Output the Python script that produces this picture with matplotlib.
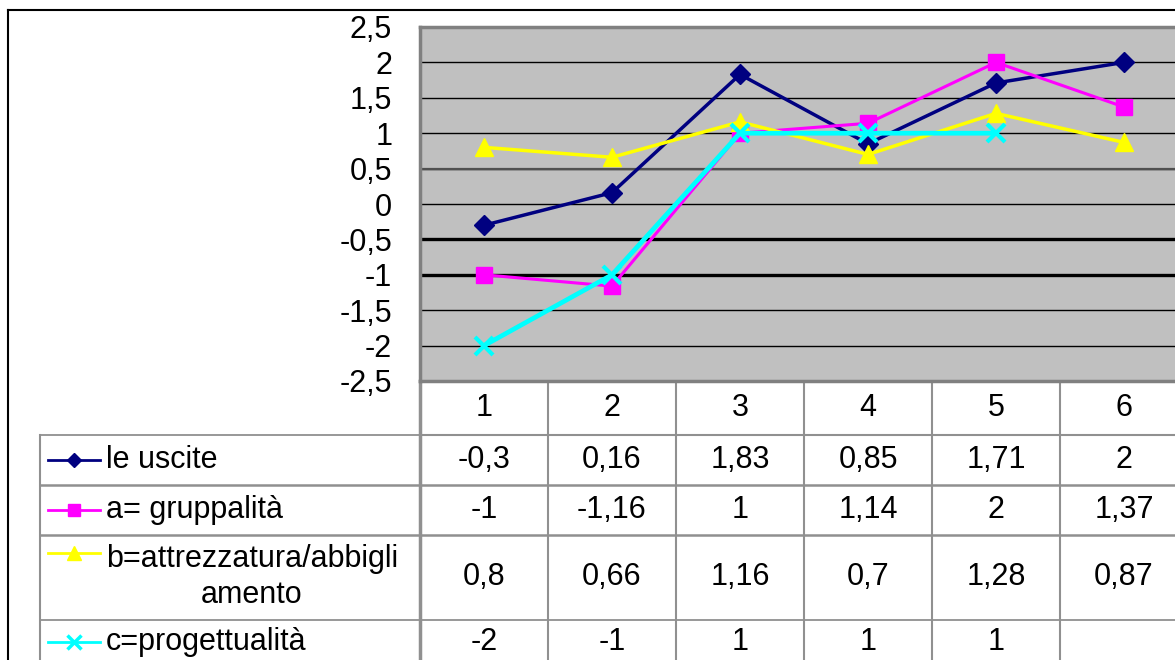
import numpy as np
import matplotlib
matplotlib.use("Agg")
import matplotlib.pyplot as plt
from matplotlib.transforms import blended_transform_factory
from matplotlib.lines import Line2D

plt.rcParams["font.family"] = ["Liberation Sans", "DejaVu Sans"]

# ----------------- data -----------------
x = [1, 2, 3, 4, 5, 6]
categories = ["1", "2", "3", "4", "5", "6"]
uscite = [-0.3, 0.16, 1.83, 0.85, 1.71, 2]
gruppalita = [-1, -1.16, 1, 1.14, 2, 1.37]
attrezzatura = [0.8, 0.66, 1.16, 0.7, 1.28, 0.87]
progettualita = [-2, -1, 1, 1, 1, np.nan]

series_names = ["le uscite", "a= gruppalità", "b=attrezzatura/abbigli\namento", "c=progettualità"]
series_vals = [uscite, gruppalita, attrezzatura, progettualita]
colors = ["#000080", "#ff00ff", "#ffff00", "#00ffff"]
markers = ["D", "s", "^", "x"]
msizes = [10, 12, 13, 13]
lwidths = [2.5, 2.2, 2.5, 3.4]

FS = 22
W, H = 1175, 660
fig = plt.figure(figsize=(W / 100, H / 100), dpi=100)

# ----------------- plot area -----------------
ax = fig.add_axes([420 / W, 1 - 381 / H, 768 / W, 354 / H])
ax.set_facecolor("#c0c0c0")
ax.set_xlim(0.5, 6.5)
ax.set_ylim(-2.5, 2.5)
yt = np.arange(-2.5, 2.51, 0.5)
ax.set_yticks(yt)
ax.set_yticklabels([("%g" % v).replace(".", ",") for v in yt])
ax.set_xticks([])
ax.tick_params(axis="y", length=0, labelsize=FS, pad=20)
ax.yaxis.grid(True, color="black", lw=1)
ax.set_axisbelow(True)
for v, w in [(-0.5, 2.4), (-1, 2.4), (0.5, 1.6)]:
    ax.axhline(v, color="black" if v < 0 else "#505050", lw=w, zorder=1)
for s in ax.spines.values():
    s.set_color("#808080")
    s.set_linewidth(2.5)

for vals, c, m, ms, lw in zip(series_vals, colors, markers, msizes, lwidths):
    ax.plot(x, vals, color=c, marker=m, markersize=ms, lw=lw,
            markeredgewidth=3 if m == "x" else 1, markeredgecolor=c, zorder=3, clip_on=False)

# ----------------- data table -----------------
tab = fig.add_axes([0, 0, 1, 1], zorder=-1)
tab.set_xlim(0, W)
tab.set_ylim(H, 0)
tab.axis("off")
bt = blended_transform_factory(ax.transData, tab.transData)

grid_c = "#909090"
row_edges = [435, 485, 535, 620, 700]
row_mid = [460, 510, 577, 642]
key_y = [460, 510, 553, 642]

# header row
tab.plot([420, W], [435, 435], color=grid_c, lw=1.5)
for i in range(len(x) + 1):
    xe = i + 0.5
    lw = 2.5 if i == 0 else 1.5
    tab.plot([xe, xe], [381, 700], color=grid_c, lw=lw, transform=bt)
for xi, lab in zip(x, categories):
    tab.text(xi, 408, lab, transform=bt, ha="center", va="center", fontsize=FS)

# series rows
for r in row_edges:
    tab.plot([40, W], [r, r], color=grid_c, lw=1.8 if r in (485, 535) else 1.3)
tab.plot([40, 40], [435, 700], color=grid_c, lw=1.5)

for name, vals, c, m, ms, ym, ky in zip(series_names, series_vals, colors, markers, msizes, row_mid, key_y):
    tab.plot([48, 100], [ky, ky], color=c, lw=2.0)
    tab.plot([74], [ky], color=c, marker=m, markersize=ms * 0.75, markeredgecolor=c,
             markeredgewidth=2.5 if m == "x" else 1)
    tab.text(106, ym, name, ha="left", va="center", fontsize=FS,
             multialignment="center", linespacing=1.3)
    for xi, v in zip(x, vals):
        if np.isnan(v):
            continue
        tab.text(xi, ym, ("%g" % v).replace(".", ","), transform=bt,
                 ha="center", va="center", fontsize=FS)

# chart border
fig.add_artist(Line2D([8 / W, 1], [1 - 10 / H, 1 - 10 / H], color="black", lw=1.5, transform=fig.transFigure))
fig.add_artist(Line2D([8 / W, 8 / W], [0, 1 - 10 / H], color="black", lw=1.5, transform=fig.transFigure))

fig.savefig("out.png", dpi=100)
